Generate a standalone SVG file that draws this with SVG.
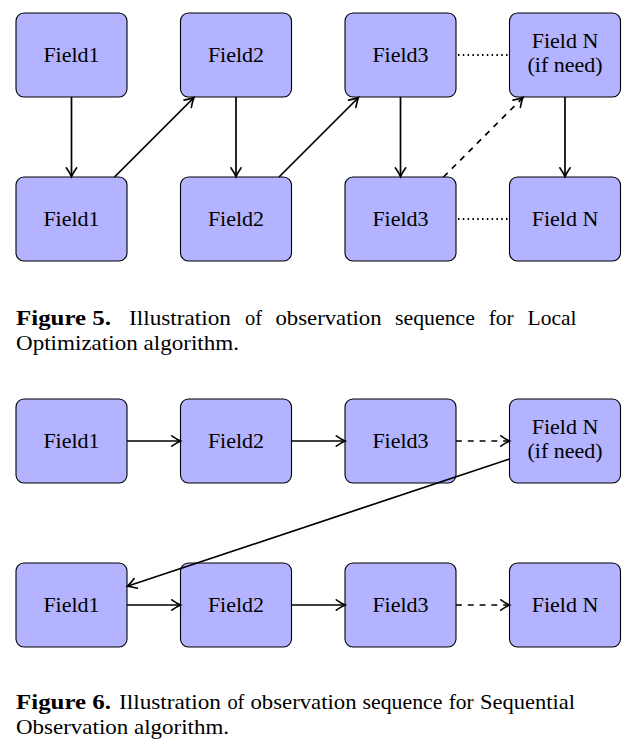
<svg xmlns="http://www.w3.org/2000/svg" width="631" height="756" viewBox="0 0 631 756">
<style>
.box{fill:#b3b3ff;stroke:#000;stroke-width:1.1}
.lbl{font-family:"Liberation Serif","DejaVu Serif",serif;font-size:22px;text-anchor:middle;fill:#000}
.cap{font-family:"Liberation Serif","DejaVu Serif",serif;font-size:21px;fill:#000}
.b{font-weight:bold}
.ar{fill:none;stroke:#000;stroke-width:1.7;marker-end:url(#tip)}
.dash{stroke-dasharray:5.9 5.9}
.dot{fill:none;stroke:#000;stroke-width:1.8;stroke-dasharray:1.5 3.3}
</style>
<defs>
<marker id="tip" markerUnits="userSpaceOnUse" markerWidth="16" markerHeight="16" refX="10" refY="7" orient="auto" overflow="visible">
<path d="M1.8 1.8 Q7 5.5 10.6 7 Q7 8.5 1.8 12.2" fill="none" stroke="#000" stroke-width="1.6" stroke-linecap="round" stroke-dasharray="none"/>
</marker>
</defs>
<g id="fig5">
<g id="f5-a1"><rect class="box" x="16" y="13" width="111" height="84" rx="8"/><text class="lbl" x="71.5" y="62">Field1</text></g>
<g id="f5-a2"><rect class="box" x="180.5" y="13" width="111" height="84" rx="8"/><text class="lbl" x="236" y="62">Field2</text></g>
<g id="f5-a3"><rect class="box" x="345" y="13" width="111" height="84" rx="8"/><text class="lbl" x="400.5" y="62">Field3</text></g>
<g id="f5-a4"><rect class="box" x="509.5" y="13" width="111" height="84" rx="8"/><text class="lbl" x="565" y="47.5">Field N</text><text class="lbl" x="565" y="72">(if need)</text></g>
<g id="f5-b1"><rect class="box" x="16" y="177" width="111" height="84" rx="8"/><text class="lbl" x="71.5" y="226">Field1</text></g>
<g id="f5-b2"><rect class="box" x="180.5" y="177" width="111" height="84" rx="8"/><text class="lbl" x="236" y="226">Field2</text></g>
<g id="f5-b3"><rect class="box" x="345" y="177" width="111" height="84" rx="8"/><text class="lbl" x="400.5" y="226">Field3</text></g>
<g id="f5-b4"><rect class="box" x="509.5" y="177" width="111" height="84" rx="8"/><text class="lbl" x="565" y="226">Field N</text></g>
</g>
<g id="fig5-connectors">
<line class="ar" x1="71.5" y1="97" x2="71.5" y2="176"/>
<line class="ar" x1="236" y1="97" x2="236" y2="176"/>
<line class="ar" x1="400.5" y1="97" x2="400.5" y2="176"/>
<line class="ar" x1="565" y1="97" x2="565" y2="176"/>
<line class="ar" x1="114.5" y1="177" x2="193.5" y2="98"/>
<line class="ar" x1="279" y1="177" x2="358" y2="98"/>
<line class="ar dash" x1="443.5" y1="177" x2="522.5" y2="98"/>
<line class="dot" x1="458" y1="55" x2="508" y2="55"/>
<line class="dot" x1="458" y1="219" x2="508" y2="219"/>
</g>
<g id="caption5">
<text class="cap" y="325"><tspan class="b" x="16" textLength="95" lengthAdjust="spacingAndGlyphs">Figure 5.</tspan><tspan x="129" textLength="102" lengthAdjust="spacingAndGlyphs">Illustration</tspan><tspan x="245" textLength="17" lengthAdjust="spacingAndGlyphs">of</tspan><tspan x="275.5" textLength="106" lengthAdjust="spacingAndGlyphs">observation</tspan><tspan x="395" textLength="80" lengthAdjust="spacingAndGlyphs">sequence</tspan><tspan x="488.7" textLength="25" lengthAdjust="spacingAndGlyphs">for</tspan><tspan x="527.6" textLength="49" lengthAdjust="spacingAndGlyphs">Local</tspan></text>
<text class="cap" x="16" y="350" textLength="223" lengthAdjust="spacingAndGlyphs">Optimization algorithm.</text>
</g>
<g id="fig6">
<g id="f6-a1"><rect class="box" x="16" y="399" width="111" height="84" rx="8"/><text class="lbl" x="71.5" y="448">Field1</text></g>
<g id="f6-a2"><rect class="box" x="180.5" y="399" width="111" height="84" rx="8"/><text class="lbl" x="236" y="448">Field2</text></g>
<g id="f6-a3"><rect class="box" x="345" y="399" width="111" height="84" rx="8"/><text class="lbl" x="400.5" y="448">Field3</text></g>
<g id="f6-a4"><rect class="box" x="509.5" y="399" width="111" height="84" rx="8"/><text class="lbl" x="565" y="433.5">Field N</text><text class="lbl" x="565" y="458">(if need)</text></g>
<g id="f6-b1"><rect class="box" x="16" y="563" width="111" height="84" rx="8"/><text class="lbl" x="71.5" y="612">Field1</text></g>
<g id="f6-b2"><rect class="box" x="180.5" y="563" width="111" height="84" rx="8"/><text class="lbl" x="236" y="612">Field2</text></g>
<g id="f6-b3"><rect class="box" x="345" y="563" width="111" height="84" rx="8"/><text class="lbl" x="400.5" y="612">Field3</text></g>
<g id="f6-b4"><rect class="box" x="509.5" y="563" width="111" height="84" rx="8"/><text class="lbl" x="565" y="612">Field N</text></g>
</g>
<g id="fig6-connectors">
<line class="ar" x1="127" y1="441" x2="180" y2="441"/>
<line class="ar" x1="291.5" y1="441" x2="344.5" y2="441"/>
<line class="ar dash" x1="456" y1="441" x2="509" y2="441"/>
<line class="ar" x1="127" y1="605" x2="180" y2="605"/>
<line class="ar" x1="291.5" y1="605" x2="344.5" y2="605"/>
<line class="ar dash" x1="456" y1="605" x2="509" y2="605"/>
<line class="ar" x1="509.5" y1="459" x2="128" y2="586"/>
</g>
<g id="caption6">
<text class="cap" y="709"><tspan class="b" x="16" textLength="95" lengthAdjust="spacingAndGlyphs">Figure 6.</tspan><tspan x="119" textLength="102" lengthAdjust="spacingAndGlyphs">Illustration</tspan><tspan x="227.4" textLength="17" lengthAdjust="spacingAndGlyphs">of</tspan><tspan x="250.5" textLength="106" lengthAdjust="spacingAndGlyphs">observation</tspan><tspan x="362.5" textLength="80" lengthAdjust="spacingAndGlyphs">sequence</tspan><tspan x="448.7" textLength="25" lengthAdjust="spacingAndGlyphs">for</tspan><tspan x="480" textLength="95" lengthAdjust="spacingAndGlyphs">Sequential</tspan></text>
<text class="cap" x="16" y="734" textLength="213" lengthAdjust="spacingAndGlyphs">Observation algorithm.</text>
</g>
</svg>
